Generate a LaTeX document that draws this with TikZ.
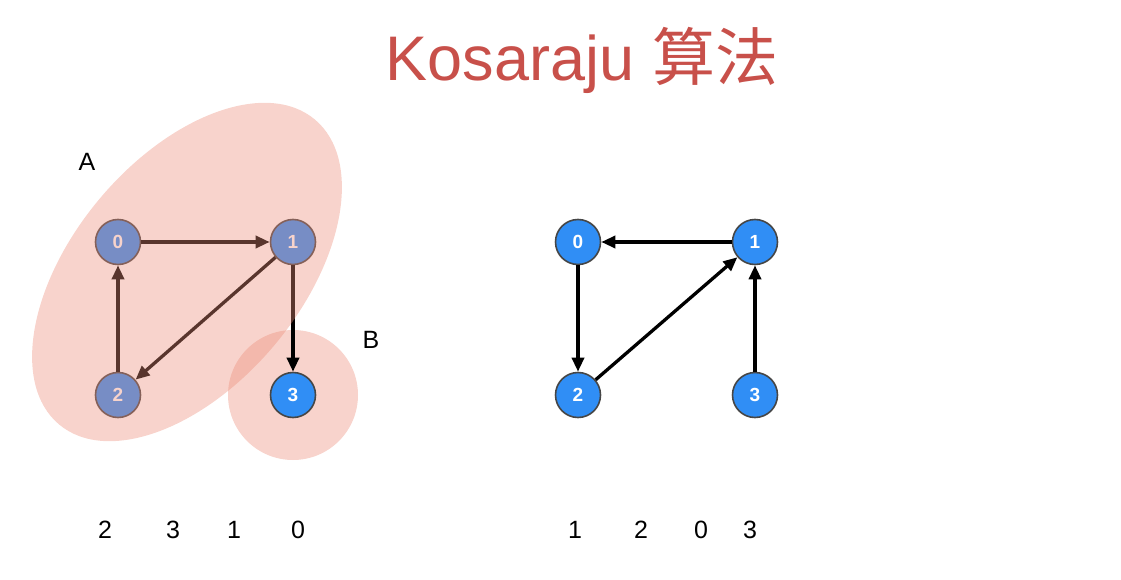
\documentclass[tikz,border=0pt]{standalone}
\usepackage{fontspec}
\setmainfont{Liberation Sans}
\newfontfamily\cjk{Noto Sans CJK SC}
\usetikzlibrary{arrows.meta}
\definecolor{titlered}{RGB}{200,80,74}
\definecolor{vblue}{RGB}{48,142,245}
\definecolor{vline}{RGB}{70,70,70}
\definecolor{blob}{RGB}{236,140,120}
\tikzset{
  vertex/.style={circle,fill=vblue,draw=vline,line width=1.6pt,minimum size=45pt,inner sep=0pt,
    text=white,font=\fontsize{19}{19}\selectfont\bfseries},
  edge/.style={-{Triangle[length=14pt,width=12pt]},line width=3.3pt,black},
  region/.style={fill=blob,opacity=0.38},
  tag/.style={font=\fontsize{25}{25}\selectfont},
  order/.style={font=\fontsize{25}{25}\selectfont}
}
\begin{document}
\begin{tikzpicture}[x=1pt,y=-1pt]
\useasboundingbox (0,0) rectangle (1121,580);
% title
\node (title) at (582,60) {\color{titlered}\fontsize{63}{63}\selectfont Kosaraju {\cjk 算法}};

% component B sits behind its vertex
\fill[region] (293,395) circle (65);

% left graph
\node[vertex] (a0) at (118,242) {0};
\node[vertex] (a1) at (293,242) {1};
\node[vertex] (a2) at (118,395) {2};
\node[vertex] (a3) at (293,395) {3};
\draw[edge] (a0) -- (a1);
\draw[edge] (a1) -- (a2);
\draw[edge] (a2) -- (a0);
\draw[edge] (a1) -- (a3);

% component A drawn over its vertices
\fill[region] (187,272) ellipse[x radius=199,y radius=114,rotate=50];

\node[tag] (labA) at (87,162) {A};
\node[tag] (labB) at (371,340) {B};

% right graph (reversed edges)
\node[vertex] (b0) at (578,242) {0};
\node[vertex] (b1) at (755,242) {1};
\node[vertex] (b2) at (578,395) {2};
\node[vertex] (b3) at (755,395) {3};
\draw[edge] (b1) -- (b0);
\draw[edge] (b0) -- (b2);
\draw[edge] (b2) -- (b1);
\draw[edge] (b3) -- (b1);

% finishing orders
\node[order] (l1) at (105,530) {2};
\node[order] (l2) at (173,530) {3};
\node[order] (l3) at (234,530) {1};
\node[order] (l4) at (298,530) {0};
\node[order] (r1) at (575,530) {1};
\node[order] (r2) at (641,530) {2};
\node[order] (r3) at (701,530) {0};
\node[order] (r4) at (750,530) {3};
\end{tikzpicture}
\end{document}
